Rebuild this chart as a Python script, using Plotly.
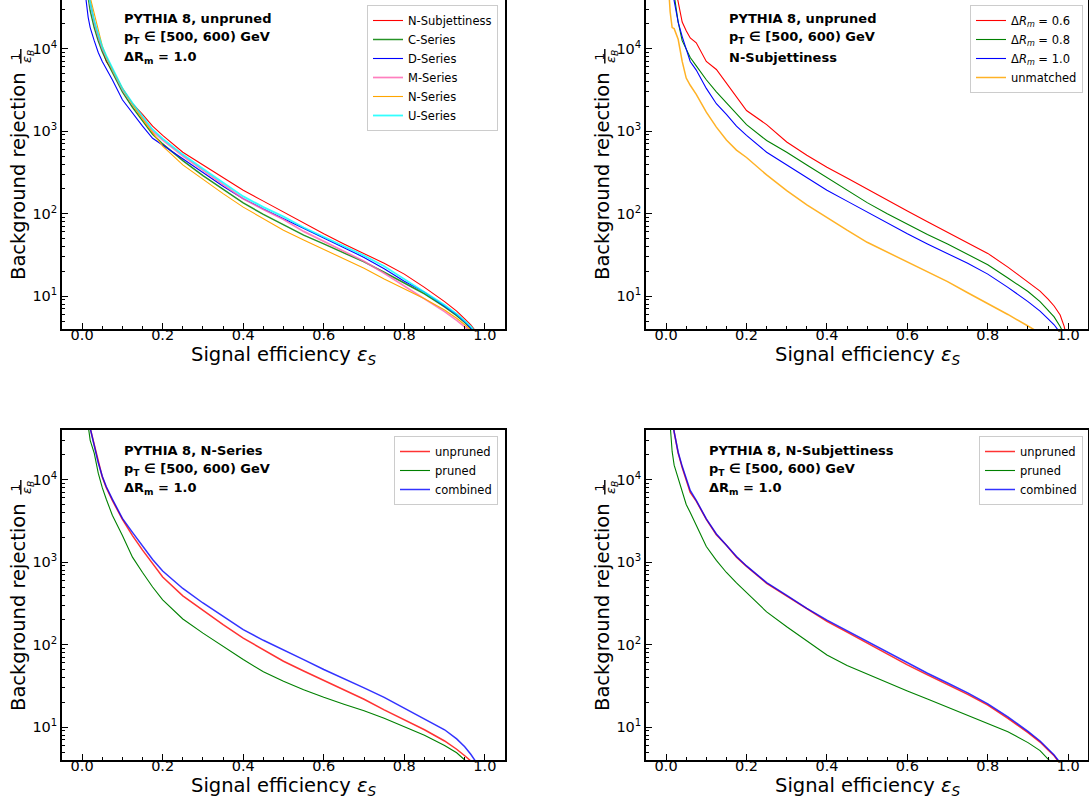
import plotly.graph_objects as go

# ---------------- data ----------------
EFF = [0.005, 0.01, 0.015, 0.02, 0.03, 0.04, 0.05, 0.06, 0.075, 0.1, 0.125, 0.15,
       0.175, 0.2, 0.25, 0.3, 0.35, 0.4, 0.45, 0.5, 0.55, 0.6, 0.65, 0.7, 0.75,
       0.8, 0.85, 0.9, 0.93, 0.95, 0.965, 0.98, 0.99, 0.997]

# N-Subjettiness, unpruned, dR_m = 1.0 (appears in three panels)
NSUB_UNPRUNED = [200000, 100000, 55000, 38000, 21000, 14000, 10000, 7000, 5500, 3300, 2150, 1600,
                 1150, 890, 555, 388, 268, 192, 142, 104, 77, 57, 43, 33, 25,
                 18.5, 12.8, 8.6, 6.6, 5.3, 4.5, 3.6, 3.0, 2.4]
C_SERIES = [150000, 70000, 42000, 29000, 18000, 12500, 9200, 7200, 5200, 3000, 1950, 1350,
            920, 700, 440, 290, 200, 135, 98, 73, 55, 43, 33.5, 26, 19.5,
            14.5, 10.7, 7.4, 5.8, 4.8, 4.1, 3.4, 2.8, 2.3]
D_SERIES = [80000, 38000, 24000, 18000, 12500, 9000, 7000, 5700, 4200, 2400, 1650, 1150,
            820, 680, 460, 315, 215, 152, 114, 87, 65, 50, 38.5, 29.5, 21.5,
            15.2, 11.2, 7.7, 6.0, 4.9, 4.15, 3.4, 2.8, 2.3]
M_SERIES = [180000, 90000, 50000, 35000, 21000, 14000, 10000, 7800, 5600, 3200, 2100, 1450,
            1000, 780, 500, 335, 225, 152, 112, 85, 61, 46, 35, 26.5, 19,
            13.3, 9.4, 6.5, 5.1, 4.3, 3.7, 3.0, 2.5, 2.1]
N_SERIES_UNPRUNED = [200000, 100000, 60000, 42000, 27000, 16000, 10800, 8000, 5600, 3300, 2100, 1400,
                     950, 660, 390, 258, 175, 120, 86, 63, 48, 37, 28.5, 21.8, 16.2,
                     12.3, 9.3, 6.8, 5.4, 4.5, 3.9, 3.2, 2.6, 2.2]
U_SERIES = [180000, 90000, 50000, 36000, 22000, 15000, 10500, 8200, 5900, 3300, 2200, 1500,
            1050, 810, 520, 351, 240, 162, 120, 92, 68, 52, 40, 31, 23,
            16.0, 11.4, 7.8, 6.1, 5.0, 4.3, 3.5, 2.9, 2.4]

NSUB_DR06 = [300000, 150000, 90000, 65000, 38000, 21000, 16500, 13500, 11800, 7000, 5600, 3800,
             2600, 1780, 1200, 740, 510, 365, 270, 198, 146, 108, 80, 60, 45,
             33, 22.5, 15, 11.5, 9.2, 7.6, 5.9, 4.3, 3.0]
NSUB_DR08 = [200000, 110000, 65000, 45000, 21000, 12500, 10000, 7800, 6200, 4200, 3000, 2200,
             1600, 1200, 770, 555, 390, 275, 195, 136, 100, 74, 56, 43, 32.5,
             24, 16.6, 11.4, 8.6, 6.8, 5.6, 4.3, 3.4, 2.4]
NSUB_UNMATCHED = [70000, 28000, 18000, 17500, 13000, 7000, 4400, 3600, 2800, 1700, 1120, 780,
                  590, 480, 295, 190, 128, 89, 63, 45, 34, 26, 19.5, 15, 11,
                  8.2, 6.0, 4.35, 3.6, 3.1, 2.8, 2.4, 2.1, 1.9]

N_SERIES_PRUNED = [200000, 90000, 45000, 30000, 21000, 12000, 8000, 5800, 3700, 2100, 1150, 750,
                   500, 350, 205, 138, 95, 66, 47, 36, 28.5, 23, 19, 15.8, 12.8,
                   10.2, 8.0, 6.0, 4.9, 4.0, 3.4, 2.8, 2.4, 2.1]
N_SERIES_COMBINED = [200000, 100000, 60000, 42000, 26000, 16000, 11000, 8200, 5800, 3400, 2300, 1550,
                     1080, 780, 480, 320, 220, 152, 113, 87, 66, 50, 39, 30, 23,
                     17, 12.8, 9.3, 7.2, 5.8, 4.7, 3.7, 3.1, 2.5]

NSUB_PRUNED = [100000, 40000, 22000, 15000, 10500, 7000, 5000, 4000, 2800, 1550, 1050, 750,
               560, 425, 250, 165, 112, 75, 56, 44, 35, 27.5, 22, 17.5, 14,
               11.3, 8.8, 6.5, 5.2, 4.1, 3.5, 2.9, 2.5, 2.1]
NSUB_COMBINED = [200000, 100000, 55000, 38000, 21500, 14500, 10300, 7400, 5600, 3350, 2200, 1620,
                 1170, 900, 565, 395, 275, 198, 147, 108, 80, 59.5, 45, 34.3, 26,
                 19.2, 13.3, 8.9, 6.8, 5.45, 4.6, 3.7, 3.0, 2.4]

XTICKS = [0.0, 0.2, 0.4, 0.6, 0.8, 1.0]
XTICKTEXT = ["0.0", "0.2", "0.4", "0.6", "0.8", "1.0"]
XMINOR = [0.05, 0.1, 0.15, 0.25, 0.3, 0.35, 0.45, 0.5, 0.55, 0.65, 0.7, 0.75, 0.85, 0.9, 0.95]
YTICKS = [10, 100, 1000, 10000]
YTICKTEXT = ["10<sup>1</sup>", "10<sup>2</sup>", "10<sup>3</sup>", "10<sup>4</sup>"]
YMINOR = [m * d for d in (1, 10, 100, 1000) for m in (5, 6, 7, 8, 9)] + \
         [m * d for d in (10, 100, 1000) for m in (2, 3, 4)] + [20000, 30000]

# ---------------- figure ----------------
W, H = 1089, 803
FONT = "DejaVu Sans"


def px(xp):
    return xp / W


def py(yp):
    return 1 - yp / H


fig = go.Figure()

panels = [
    # (xaxis, yaxis, legend, series list)
    ("x", "y", "legend", [
        ("N-Subjettiness", NSUB_UNPRUNED, "red", 1.1, 1.0),
        ("C-Series", C_SERIES, "green", 1.5, 0.85),
        ("D-Series", D_SERIES, "blue", 1.1, 1.0),
        ("M-Series", M_SERIES, "hotpink", 1.7, 0.85),
        ("N-Series", N_SERIES_UNPRUNED, "orange", 1.1, 1.0),
        ("U-Series", U_SERIES, "cyan", 1.8, 0.8),
    ]),
    ("x2", "y2", "legend2", [
        ("Δ<i>R</i><sub><i>m</i></sub> = 0.6", NSUB_DR06, "red", 1.1, 1.0),
        ("Δ<i>R</i><sub><i>m</i></sub> = 0.8", NSUB_DR08, "green", 1.1, 1.0),
        ("Δ<i>R</i><sub><i>m</i></sub> = 1.0", NSUB_UNPRUNED, "blue", 1.1, 1.0),
        ("unmatched", NSUB_UNMATCHED, "orange", 1.5, 0.85),
    ]),
    ("x3", "y3", "legend3", [
        ("unpruned", N_SERIES_UNPRUNED, "red", 1.5, 0.8),
        ("pruned", N_SERIES_PRUNED, "green", 1.1, 1.0),
        ("combined", N_SERIES_COMBINED, "blue", 1.5, 0.8),
    ]),
    ("x4", "y4", "legend4", [
        ("unpruned", NSUB_UNPRUNED, "red", 1.5, 0.8),
        ("pruned", NSUB_PRUNED, "green", 1.1, 1.0),
        ("combined", NSUB_COMBINED, "blue", 1.5, 0.8),
    ]),
]

for xa, ya, lg, series in panels:
    for name, vals, color, lw, op in series:
        fig.add_trace(go.Scatter(
            x=EFF, y=vals, mode="lines", name=name,
            line=dict(color=color, width=lw), opacity=op,
            xaxis=xa, yaxis=ya, legend=lg, showlegend=True,
            hoverinfo="skip"))

XD_L = [62 / W, 505 / W]
XD_R = [646 / W, 1088.3 / W]
YD_T = [py(329), 1.0]
YD_B = [py(760), py(430)]
YR_T = [0.60206, 4.5900]
YR_B = [0.60206, 4.60206]


def xaxis_cfg(domain, anchor, mirror):
    return dict(domain=domain, anchor=anchor, range=[-0.05, 1.05],
                tickmode="array", tickvals=XTICKS, ticktext=XTICKTEXT,
                ticks="inside", ticklen=6, tickwidth=1.2, tickcolor="black",
                ticklabelstandoff=-8,
                showline=True, linecolor="black", linewidth=1.6, mirror=mirror,
                showgrid=False, zeroline=False,
                tickfont=dict(family=FONT, size=14.5, color="black"),
                minor=dict(tickmode="array", tickvals=XMINOR, ticks="inside", ticklen=3.5,
                           tickwidth=1, tickcolor="black", showgrid=False))


def yaxis_cfg(domain, anchor, rng):
    return dict(type="log", domain=domain, anchor=anchor, range=rng,
                tickmode="array", tickvals=YTICKS, ticktext=YTICKTEXT,
                ticks="inside", ticklen=6, tickwidth=1.2, tickcolor="black",
                showline=True, linecolor="black", linewidth=1.6, mirror=True,
                showgrid=False, zeroline=False,
                tickfont=dict(family=FONT, size=14.5, color="black"),
                minor=dict(tickmode="array", tickvals=YMINOR, ticks="inside", ticklen=3.5,
                           tickwidth=1, tickcolor="black", showgrid=False))


def legend_cfg(xr, yt):
    return dict(x=px(xr), y=py(yt), xanchor="right", yanchor="top",
                bgcolor="rgba(255,255,255,0.8)", bordercolor="#cccccc", borderwidth=1,
                font=dict(family=FONT, size=11.5, color="black"), tracegroupgap=0)


annotations = []
shapes = []

# panel texts
texts = [
    (122, 0, ["PYTHIA 8, unpruned", "p<sub>T</sub> ∈ [500, 600) GeV", "ΔR<sub>m</sub> = 1.0"]),
    (726.7, 0, ["PYTHIA 8, unpruned", "p<sub>T</sub> ∈ [500, 600) GeV", "N-Subjettiness"]),
    (122, 431.7, ["PYTHIA 8, N-Series", "p<sub>T</sub> ∈ [500, 600) GeV", "ΔR<sub>m</sub> = 1.0"]),
    (706.7, 431.7, ["PYTHIA 8, N-Subjettiness", "p<sub>T</sub> ∈ [500, 600) GeV", "ΔR<sub>m</sub> = 1.0"]),
]
for x0, dy, lines in texts:
    for yy, t in zip([19, 37.5, 57], lines):
        annotations.append(dict(x=px(x0), y=py(yy + dy), xref="paper", yref="paper",
                                text="<b>" + t + "</b>", showarrow=False,
                                xanchor="left", yanchor="middle",
                                font=dict(family=FONT, size=13, color="black")))

# axis titles
for xc, yc in [(283.5, 355), (867, 355), (283.5, 786), (867, 786)]:
    annotations.append(dict(x=px(xc), y=py(yc), xref="paper", yref="paper",
                            text="Signal efficiency <i>ε</i><sub><i>S</i></sub>",
                            showarrow=False, xanchor="center", yanchor="middle",
                            font=dict(family=FONT, size=19.5, color="black")))

for xoff, yoff in [(0, 0), (584, 0), (0, 431), (584, 431)]:
    annotations.append(dict(x=px(18 + xoff), y=py(176 + yoff), xref="paper", yref="paper",
                            text="Background rejection", textangle=-90,
                            showarrow=False, xanchor="center", yanchor="middle",
                            font=dict(family=FONT, size=19.5, color="black")))
    annotations.append(dict(x=px(15 + xoff), y=py(56.5 + yoff), xref="paper", yref="paper",
                            text="1", textangle=-90, showarrow=False,
                            xanchor="center", yanchor="middle",
                            font=dict(family=FONT, size=12, color="black")))
    annotations.append(dict(x=px(27.5 + xoff), y=py(56.5 + yoff), xref="paper", yref="paper",
                            text="<i>ε</i><sub><i>B</i></sub>", textangle=-90, showarrow=False,
                            xanchor="center", yanchor="middle",
                            font=dict(family=FONT, size=13, color="black")))
    shapes.append(dict(type="line", xref="paper", yref="paper",
                       x0=px(20.8 + xoff), x1=px(20.8 + xoff),
                       y0=py(49 + yoff), y1=py(63.5 + yoff),
                       line=dict(color="black", width=1.4)))

fig.update_layout(
    width=W, height=H, margin=dict(l=0, r=0, t=0, b=0),
    paper_bgcolor="white", plot_bgcolor="white",
    font=dict(family=FONT, color="black"),
    xaxis=xaxis_cfg(XD_L, "y", False),
    yaxis=yaxis_cfg(YD_T, "x", YR_T),
    xaxis2=xaxis_cfg(XD_R, "y2", False),
    yaxis2=yaxis_cfg(YD_T, "x2", YR_T),
    xaxis3=xaxis_cfg(XD_L, "y3", True),
    yaxis3=yaxis_cfg(YD_B, "x3", YR_B),
    xaxis4=xaxis_cfg(XD_R, "y4", True),
    yaxis4=yaxis_cfg(YD_B, "x4", YR_B),
    legend=legend_cfg(498, 5),
    legend2=legend_cfg(1083, 5),
    legend3=legend_cfg(498, 436),
    legend4=legend_cfg(1083, 436),
    annotations=annotations,
    shapes=shapes,
)

fig.write_html("out.html")
